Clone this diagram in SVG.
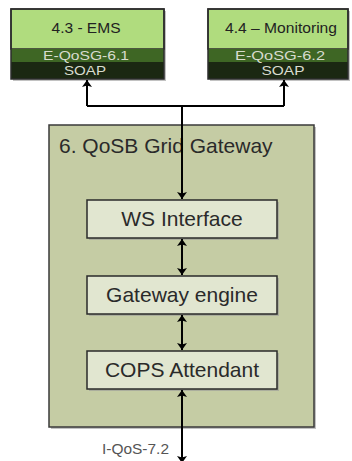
<svg xmlns="http://www.w3.org/2000/svg" width="352" height="461" viewBox="0 0 352 461">
  <defs>
    <marker id="arrow" viewBox="0 0 7 10" refX="7" refY="5" markerWidth="7" markerHeight="10" orient="auto-start-reverse" markerUnits="userSpaceOnUse">
      <path d="M0,0 L7,5 L0,10 L1.5,5 z" fill="#000"/>
    </marker>
  </defs>
  <style>
    .shadow { fill: #9a9a9a; opacity: 0.6; }
    .svc-top { fill: #b0dc7e; stroke: #2c2c2c; stroke-width: 1.5; }
    .svc-mid { fill: #3e6624; }
    .svc-low { fill: #1b2812; }
    .svc-frame { fill: none; stroke: #2c2c2c; stroke-width: 1.5; }
    .svc-name { font-family: "Liberation Sans", Arial, sans-serif; font-size: 14px; fill: #222; text-anchor: middle; }
    .svc-band { font-family: "Liberation Sans", Arial, sans-serif; font-size: 12px; fill: #d8dccf; text-anchor: middle; }
    .gw { fill: #c5cca4; stroke: #3a3a3a; stroke-width: 1.5; }
    .part { fill: #e1e6d0; stroke: #2a2a2a; stroke-width: 1.5; }
    .big { font-family: "Liberation Sans", Arial, sans-serif; font-size: 21px; fill: #2a2a2a; }
    .mid { text-anchor: middle; }
    .lbl { font-family: "Liberation Sans", Arial, sans-serif; font-size: 14px; fill: #555; }
    .wire { fill: none; stroke: #000; stroke-width: 2; }
  </style>
  <rect width="352" height="461" fill="#fff"/>

  <!-- 4.3 EMS service -->
  <g id="ems">
    <rect class="shadow" x="13" y="11" width="153" height="70"/>
    <rect class="svc-top" x="11" y="9" width="153" height="40"/>
    <rect class="svc-mid" x="11" y="49" width="153" height="13"/>
    <rect class="svc-low" x="11" y="62" width="153" height="17"/>
    <rect class="svc-frame" x="11" y="9" width="153" height="70"/>
    <text class="svc-name" x="86" y="33" textLength="69" lengthAdjust="spacingAndGlyphs">4.3 - EMS</text>
    <text class="svc-band" x="86" y="59.5" textLength="86" lengthAdjust="spacingAndGlyphs">E-QoSG-6.1</text>
    <text class="svc-band" x="85" y="75" textLength="42" lengthAdjust="spacingAndGlyphs">SOAP</text>
  </g>

  <!-- 4.4 Monitoring service -->
  <g id="monitoring">
    <rect class="shadow" x="210" y="11" width="140" height="70"/>
    <rect class="svc-top" x="208" y="9" width="140" height="40"/>
    <rect class="svc-mid" x="208" y="49" width="140" height="13"/>
    <rect class="svc-low" x="208" y="62" width="140" height="17"/>
    <rect class="svc-frame" x="208" y="9" width="140" height="70"/>
    <text class="svc-name" x="281" y="33" textLength="112" lengthAdjust="spacingAndGlyphs">4.4 – Monitoring</text>
    <text class="svc-band" x="280" y="59.5" textLength="90" lengthAdjust="spacingAndGlyphs">E-QoSG-6.2</text>
    <text class="svc-band" x="283" y="75" textLength="43" lengthAdjust="spacingAndGlyphs">SOAP</text>
  </g>

  <!-- QoSB Grid Gateway container -->
  <g id="gateway">
    <rect class="shadow" x="51" y="127" width="265" height="302"/>
    <rect class="gw" x="49" y="125" width="265" height="302"/>
    <text class="big" x="59" y="153">6. QoSB Grid Gateway</text>
  </g>

  <g id="ws-interface">
    <rect class="shadow" x="89" y="202" width="190" height="38"/>
    <rect class="part" x="87" y="200" width="190" height="38"/>
    <text class="big mid" x="182" y="226">WS Interface</text>
  </g>

  <g id="gateway-engine">
    <rect class="shadow" x="89" y="278" width="190" height="38"/>
    <rect class="part" x="87" y="276" width="190" height="38"/>
    <text class="big mid" x="182" y="302">Gateway engine</text>
  </g>

  <g id="cops-attendant">
    <rect class="shadow" x="89" y="353" width="190" height="38"/>
    <rect class="part" x="87" y="351" width="190" height="38"/>
    <text class="big mid" x="182" y="377">COPS Attendant</text>
  </g>

  <!-- connectors -->
  <g id="connectors">
    <path class="wire" d="M87,106 V80" marker-end="url(#arrow)"/>
    <path class="wire" d="M284,106 V80" marker-end="url(#arrow)"/>
    <path class="wire" d="M87,106 H284"/>
    <path class="wire" d="M182,106 V199" marker-end="url(#arrow)"/>
    <path class="wire" d="M182,239 V275" marker-start="url(#arrow)" marker-end="url(#arrow)"/>
    <path class="wire" d="M182,315 V350" marker-start="url(#arrow)" marker-end="url(#arrow)"/>
    <path class="wire" d="M182,390 V463" marker-start="url(#arrow)" marker-end="url(#arrow)"/>
    <text class="lbl" x="102" y="454" textLength="67" lengthAdjust="spacingAndGlyphs">I-QoS-7.2</text>
  </g>
</svg>
